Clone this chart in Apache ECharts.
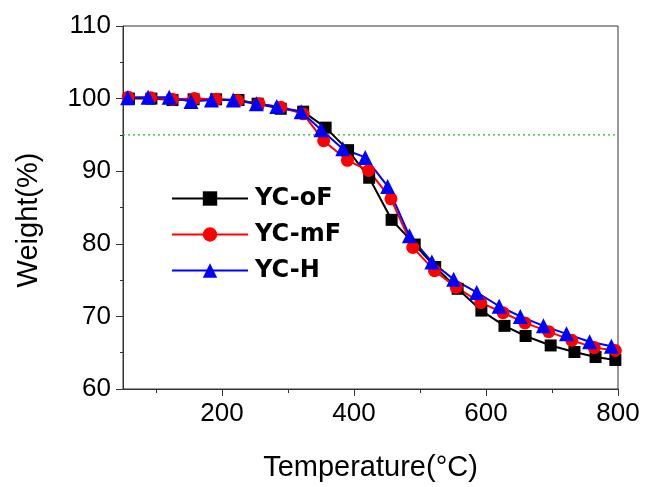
<!DOCTYPE html>
<html>
<head>
<meta charset="utf-8">
<script src="https://cdn.jsdelivr.net/npm/echarts@6/dist/echarts.min.js"></script>
<style>
  html, body { margin: 0; padding: 0; background: #fff; }
  #chart { width: 646px; height: 487px; }
</style>
</head>
<body>
<div id="chart"></div>
<script>
// TGA curves, values
const oFTemp = [59, 93, 125, 157, 191, 225, 254, 289, 323, 357, 391, 423, 457, 492, 523, 557, 593, 628, 660, 698, 734, 766, 796];
const oFWeight = [100.0, 100.0, 99.8, 99.9, 99.9, 99.8, 99.3, 98.6, 98.2, 96.0, 92.9, 89.1, 83.3, 79.9, 76.8, 73.8, 70.8, 68.7, 67.3, 66.0, 65.1, 64.4, 64.0];

const mFTemp = [58, 92, 125, 158, 191, 224, 256, 289, 323, 354, 390, 422, 456, 489, 522, 555, 592, 626, 659, 695, 730, 764, 796];
const mFWeight = [100.2, 100.1, 99.9, 100.0, 99.9, 99.7, 99.3, 98.8, 97.9, 94.2, 91.5, 90.1, 86.2, 79.5, 76.3, 74.0, 71.9, 70.5, 69.1, 67.9, 66.7, 65.7, 65.3];

const hTemp = [57, 88, 120, 153, 184, 217, 252, 283, 320, 350, 383, 417, 451, 484, 518, 551, 586, 620, 652, 687, 722, 757, 790];
const hWeight = [100.1, 100.2, 100.2, 99.6, 99.8, 99.8, 99.3, 98.9, 98.2, 95.7, 93.1, 91.9, 87.9, 81.1, 77.5, 75.1, 73.3, 71.4, 70.0, 68.7, 67.6, 66.5, 65.9];

const seriesNames = ['YC-oF', 'YC-mF', 'YC-H'];
const xMajorTicks = [200, 400, 600, 800];
const xMinorTicks = [100, 300, 500, 700];
const refWeight = 95; // dotted guide line
const xRange = [50, 800];

const pair = (xs, ys) => xs.map((x, i) => [x, ys[i]]);

const font = '"Liberation Sans", Arial, sans-serif';

const myChart = echarts.init(document.getElementById('chart'));
const option = {
  animation: false,
  backgroundColor: '#fff',
  grid: {
    left: 123,
    right: 28,
    top: 26,
    bottom: 98,
    show: true,
    borderColor: '#333',
    borderWidth: 1,
  },
  legend: {
    orient: 'vertical',
    left: 166,
    top: 181,
    itemWidth: 76,
    itemHeight: 18,
    itemGap: 11,
    data: seriesNames,
    lineStyle: { width: 2 },
    textStyle: {
      fontFamily: '"DejaVu Sans", sans-serif',
      fontWeight: 'bold',
      fontSize: 24,
      lineHeight: 25,
      color: '#000',
      padding: [0, 0, 0, 2],
    },
  },
  xAxis: [
    {
      type: 'value',
      min: xRange[0],
      max: xRange[1],
      name: 'Temperature(°C)',
      nameLocation: 'middle',
      nameGap: 64,
      nameTextStyle: { fontFamily: font, fontSize: 29, color: '#000' },
      axisLine: { show: true, lineStyle: { color: '#333', width: 1 } },
      axisTick: {
        show: true,
        inside: false,
        length: 7,
        customValues: xMajorTicks,
        lineStyle: { color: '#333' },
      },
      axisLabel: {
        customValues: xMajorTicks,
        fontFamily: font,
        fontSize: 26,
        color: '#000',
        margin: 12,
      },
      splitLine: { show: false },
    },
    {
      // 次刻度
      type: 'value',
      position: 'bottom',
      min: xRange[0],
      max: xRange[1],
      axisLine: { show: false },
      axisTick: {
        show: true,
        length: 4,
        customValues: xMinorTicks,
        lineStyle: { color: '#333' },
      },
      axisLabel: { show: false },
      splitLine: { show: false },
    },
  ],
  yAxis: {
    type: 'value',
    min: 60,
    max: 110,
    interval: 10,
    name: 'Weight(%)',
    nameLocation: 'middle',
    nameGap: 80,
    nameTextStyle: {
      fontFamily: font,
      fontSize: 29,
      color: '#000',
      padding: [0, 25, 0, 0],
    },
    axisLine: { show: true, lineStyle: { color: '#333', width: 1 } },
    axisTick: { show: true, length: 7, lineStyle: { color: '#333' } },
    minorTick: { show: true, splitNumber: 2, length: 3, lineStyle: { color: '#333' } },
    axisLabel: { fontFamily: font, fontSize: 26, color: '#000', margin: 12 },
    splitLine: { show: false },
  },
  series: [
    {
      // 95% 参考线
      name: 'ref',
      type: 'line',
      data: xRange.map((x) => [x, refWeight]),
      symbol: 'none',
      silent: true,
      z: 1,
      color: '#22bb22',
      lineStyle: { color: '#22bb22', type: [2, 3], width: 1.2 },
    },
    {
      name: seriesNames[0],
      type: 'line',
      data: pair(oFTemp, oFWeight),
      symbol: 'rect',
      symbolSize: 12,
      color: '#000',
      lineStyle: { width: 2 },
    },
    {
      name: seriesNames[1],
      type: 'line',
      data: pair(mFTemp, mFWeight),
      symbol: 'circle',
      symbolSize: 13,
      color: '#ff0000',
      lineStyle: { width: 2 },
    },
    {
      name: seriesNames[2],
      type: 'line',
      data: pair(hTemp, hWeight),
      symbol: 'triangle',
      symbolSize: 15,
      color: '#0000ff',
      lineStyle: { width: 2 },
    },
  ],
};
myChart.setOption(option);
</script>
</body>
</html>
